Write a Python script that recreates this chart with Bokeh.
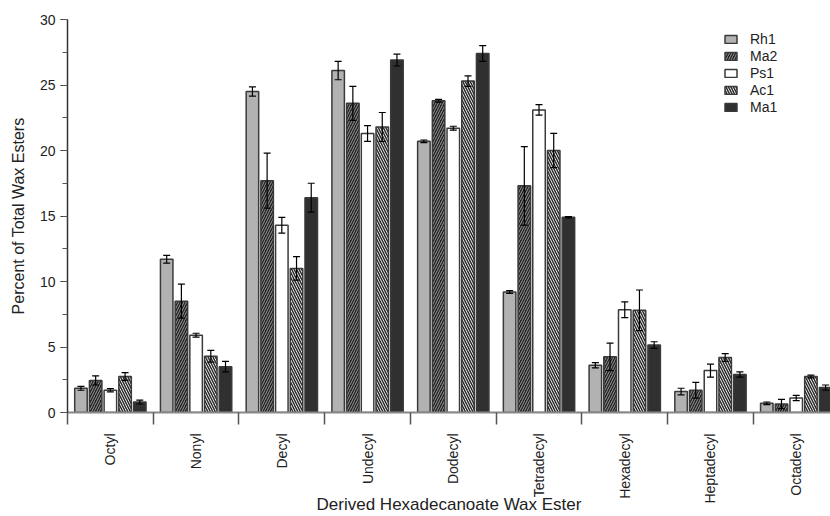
import math
from bokeh.plotting import figure
from bokeh.models import (ColumnDataSource, Range1d, FixedTicker, SingleIntervalTicker,
                          Whisker, TeeHead, Legend, LegendItem)
from bokeh.embed import file_html
from bokeh.resources import INLINE

categories = ["Octyl", "Nonyl", "Decyl", "Undecyl", "Dodecyl", "Tetradecyl",
              "Hexadecyl", "Heptadecyl", "Octadecyl"]
series = ["Rh1", "Ma2", "Ps1", "Ac1", "Ma1"]

rh1 = [1.85, 11.7, 24.5, 26.1, 20.7, 9.2, 3.6, 1.6, 0.7]
ma2 = [2.45, 8.5, 17.7, 23.6, 23.8, 17.3, 4.25, 1.7, 0.65]
ps1 = [1.7, 5.9, 14.3, 21.3, 21.7, 23.1, 7.85, 3.2, 1.1]
ac1 = [2.75, 4.3, 11.0, 21.8, 25.3, 20.0, 7.8, 4.2, 2.75]
ma1 = [0.8, 3.5, 16.4, 26.9, 27.4, 14.9, 5.15, 2.9, 1.9]

rh1_err = [0.15, 0.3, 0.35, 0.7, 0.1, 0.1, 0.2, 0.25, 0.1]
ma2_err = [0.35, 1.3, 2.1, 1.3, 0.1, 3.0, 1.05, 0.6, 0.35]
ps1_err = [0.12, 0.15, 0.6, 0.6, 0.15, 0.4, 0.6, 0.5, 0.2]
ac1_err = [0.3, 0.45, 0.9, 1.1, 0.4, 1.3, 1.55, 0.3, 0.1]
ma1_err = [0.15, 0.4, 1.1, 0.45, 0.6, 0.05, 0.25, 0.2, 0.2]

x_title = "Derived Hexadecanoate Wax Ester"
y_title = "Percent of Total Wax Esters"

values = [rh1, ma2, ps1, ac1, ma1]
errors = [rh1_err, ma2_err, ps1_err, ac1_err, ma1_err]

styles = [
    dict(fill_color="#b2b2b2"),
    dict(fill_color="#222222", hatch_pattern="right_diagonal_line", hatch_color="#e8e8e8", hatch_scale=5, hatch_weight=0.6),
    dict(fill_color="white"),
    dict(fill_color="white", hatch_pattern="left_diagonal_line", hatch_color="#2a2a2a", hatch_scale=5, hatch_weight=1.5),
    dict(fill_color="#303030"),
]

FONT = "Liberation Sans"

p = figure(width=830, height=516, output_backend="svg", toolbar_location=None,
           x_range=Range1d(0, 8.9), y_range=Range1d(0, 30),
           min_border_left=67, min_border_right=0, min_border_top=19, min_border_bottom=103)
p.outline_line_color = None
p.xgrid.grid_line_color = None
p.ygrid.grid_line_color = None

pitch = 0.1715
bw = 0.146
items = []
for k, (name, vals, errs, st) in enumerate(zip(series, values, errors, styles)):
    xs = [i + 0.5 + (k - 2) * pitch for i in range(len(categories))]
    src = ColumnDataSource(dict(x=xs, top=vals,
                                upper=[v + e for v, e in zip(vals, errs)],
                                lower=[v - e for v, e in zip(vals, errs)]))
    r = p.vbar(x="x", top="top", bottom=0, width=bw, source=src,
               line_color="#3a3a3a", line_width=1.5, **st)
    items.append(LegendItem(label=name, renderers=[r]))
    w = Whisker(base="x", upper="upper", lower="lower", source=src, level="overlay",
                line_color="black", line_width=1.2,
                upper_head=TeeHead(size=7, line_color="black", line_width=1.2),
                lower_head=TeeHead(size=7, line_color="black", line_width=1.2))
    p.add_layout(w)

legend = Legend(items=items, location=(656, 297), padding=0, margin=0,
                border_line_alpha=0, background_fill_alpha=0,
                glyph_width=15, glyph_height=10, label_height=16, spacing=1,
                label_standoff=12, label_text_font=FONT, label_text_font_size="14px",
                label_text_color="#222222")
p.add_layout(legend, "center")

# y axis
ya = p.yaxis[0]
ya.ticker = SingleIntervalTicker(interval=5, num_minor_ticks=2)
ya.axis_label = y_title
ya.axis_label_text_font = FONT
ya.axis_label_text_font_size = "16px"
ya.axis_label_text_font_style = "normal"
ya.axis_label_text_color = "#222222"
ya.axis_label_standoff = 10
ya.major_label_text_font = FONT
ya.major_label_text_font_size = "14px"
ya.major_label_text_color = "#222222"
ya.major_label_standoff = 5
ya.major_tick_out = 7
ya.major_tick_in = 0
ya.minor_tick_out = 5
ya.minor_tick_in = 0
ya.axis_line_color = "#333333"
ya.axis_line_width = 1.5
ya.major_tick_line_color = "#333333"
ya.minor_tick_line_color = "#555555"

# x axis
xa = p.xaxis[0]
xa.ticker = FixedTicker(ticks=[i + 0.5 for i in range(len(categories))],
                        minor_ticks=[float(i) for i in range(len(categories) + 1)])
xa.major_label_overrides = {i + 0.5: c for i, c in enumerate(categories)}
xa.major_label_orientation = math.pi / 2
xa.major_label_text_font = FONT
xa.major_label_text_font_size = "14px"
xa.major_label_text_color = "#222222"
xa.major_label_standoff = 9
xa.major_tick_out = 0
xa.major_tick_in = 0
xa.major_tick_line_color = None
xa.minor_tick_out = 12
xa.minor_tick_in = 0
xa.minor_tick_line_color = "#555555"
xa.minor_tick_line_width = 1.5
xa.axis_line_color = "#888888"
xa.axis_line_width = 2
xa.axis_label = x_title
xa.axis_label_text_font = FONT
xa.axis_label_text_font_size = "17px"
xa.axis_label_text_font_style = "normal"
xa.axis_label_text_color = "#222222"
xa.axis_label_standoff = -12

open("out.html", "w").write(file_html(p, INLINE))
